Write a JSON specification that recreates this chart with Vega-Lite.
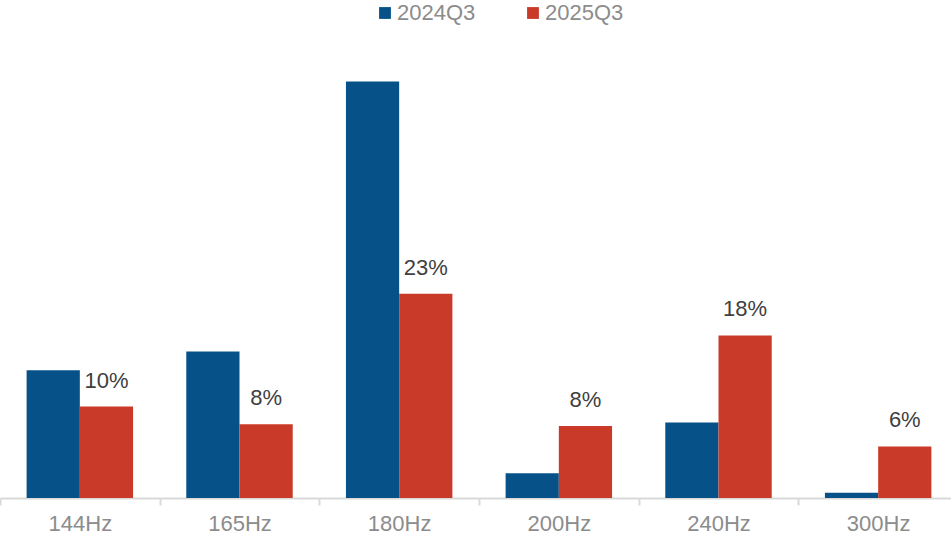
{
  "$schema": "https://vega.github.io/schema/vega-lite/v6.json",
  "autosize": "none",
  "width": 958,
  "height": 444,
  "padding": {"left": 0, "top": 54, "right": 0, "bottom": 42},
  "background": "white",
  "config": {
    "view": {"stroke": null},
    "font": "Liberation Sans"
  },
  "data": {
    "values": [
      {"cat": "144Hz", "series": "2024Q3", "value": 14.4, "label": ""},
      {"cat": "144Hz", "series": "2025Q3", "value": 10.3, "label": "10%"},
      {"cat": "165Hz", "series": "2024Q3", "value": 16.5, "label": ""},
      {"cat": "165Hz", "series": "2025Q3", "value": 8.3, "label": "8%"},
      {"cat": "180Hz", "series": "2024Q3", "value": 46.9, "label": ""},
      {"cat": "180Hz", "series": "2025Q3", "value": 23.0, "label": "23%"},
      {"cat": "200Hz", "series": "2024Q3", "value": 2.8, "label": ""},
      {"cat": "200Hz", "series": "2025Q3", "value": 8.1, "label": "8%"},
      {"cat": "240Hz", "series": "2024Q3", "value": 8.5, "label": ""},
      {"cat": "240Hz", "series": "2025Q3", "value": 18.3, "label": "18%"},
      {"cat": "300Hz", "series": "2024Q3", "value": 0.6, "label": ""},
      {"cat": "300Hz", "series": "2025Q3", "value": 5.8, "label": "6%"}
    ]
  },
  "encoding": {
    "x": {
      "field": "cat",
      "type": "nominal",
      "sort": null,
      "scale": {"paddingInner": 0, "paddingOuter": 0},
      "axis": {
        "title": null,
        "labelAngle": 0,
        "labelFontSize": 22,
        "labelColor": "#8c8c8c",
        "labelPadding": 8,
        "domainColor": "#d9d9d9",
        "domainWidth": 2,
        "tickColor": "#d9d9d9",
        "tickWidth": 2,
        "tickSize": 7,
        "tickBand": "extent"
      }
    },
    "xOffset": {
      "field": "series",
      "type": "nominal",
      "scale": {"paddingInner": 0, "paddingOuter": 0.5}
    },
    "y": {
      "field": "value",
      "type": "quantitative",
      "scale": {"domain": [0, 50], "nice": false},
      "axis": null
    }
  },
  "layer": [
    {
      "mark": {"type": "bar"},
      "encoding": {
        "color": {
          "field": "series",
          "type": "nominal",
          "scale": {"domain": ["2024Q3", "2025Q3"], "range": ["#065288", "#c93a29"]},
          "legend": {
            "title": null,
            "orient": "none",
            "direction": "horizontal",
            "legendX": 374,
            "legendY": -52,
            "symbolType": "square",
            "symbolSize": 140,
            "symbolStrokeWidth": 0,
            "labelFontSize": 22,
            "labelColor": "#8c8c8c",
            "labelOffset": 1,
            "columnPadding": 46
          }
        }
      }
    },
    {
      "transform": [{"filter": "datum.label != ''"}],
      "mark": {"type": "text", "dy": -26, "fontSize": 22, "color": "#404040"},
      "encoding": {"text": {"field": "label"}}
    }
  ]
}
